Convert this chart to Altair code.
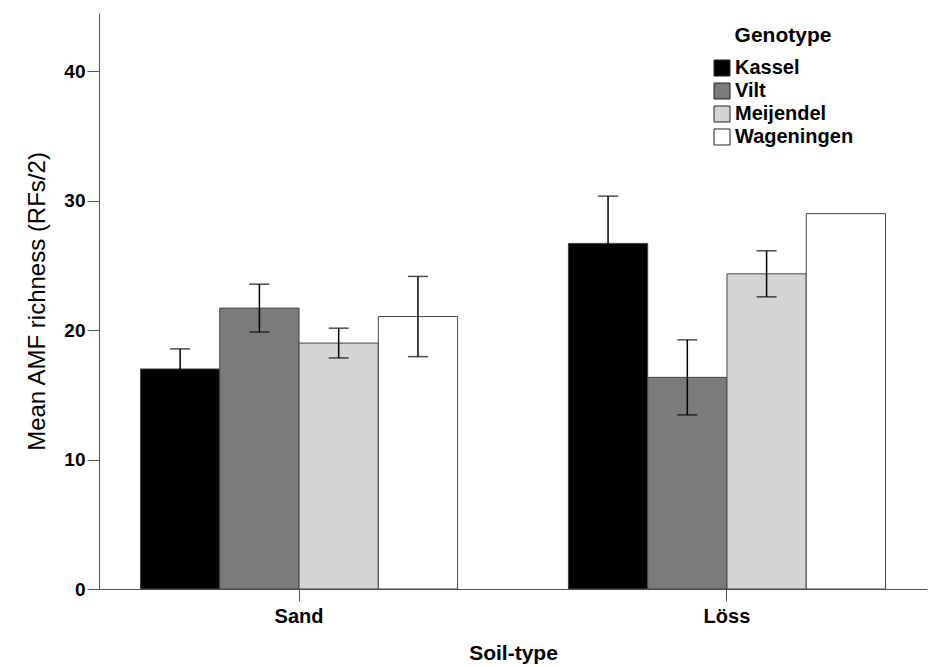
import altair as alt
import pandas as pd

# Mean AMF richness per soil type and plant genotype, with error bar half-widths
soils = ["Sand", "Löss"]
genotypes = ["Kassel", "Vilt", "Meijendel", "Wageningen"]
fills = ["#000000", "#7b7b7b", "#d4d4d4", "#ffffff"]

sand_means = [17.0, 21.7, 19.0, 21.05]
loss_means = [26.7, 16.35, 24.35, 29.0]
sand_err = [1.55, 1.85, 1.15, 3.1]
loss_err = [3.65, 2.9, 1.78, None]

rows = []
for soil, means, errs in [("Sand", sand_means, sand_err), ("Löss", loss_means, loss_err)]:
    for g, m, e in zip(genotypes, means, errs):
        rows.append({"soil": soil, "genotype": g, "mean": m,
                     "lo": None if e is None else m - e,
                     "hi": None if e is None else m + e})
df = pd.DataFrame(rows)
err_df = df.dropna(subset=["lo"])

FONT = "Liberation Sans"

x_enc = alt.X("soil:N", sort=soils, title="Soil-type",
              scale=alt.Scale(domain=soils, paddingInner=0.259, paddingOuter=0.097),
              axis=alt.Axis(labelAngle=0, labelFontSize=20, labelFontWeight="bold",
                            labelFont=FONT, labelColor="black", labelPadding=5,
                            tickSize=12, tickColor="#555", domainColor="#555",
                            titleFontSize=21, titleFontWeight="bold", titleFont=FONT,
                            titleColor="black", titlePadding=16))
off_enc = alt.XOffset("genotype:N", sort=genotypes,
                      scale=alt.Scale(domain=genotypes, paddingInner=0, paddingOuter=0))
y_scale = alt.Scale(domain=[0, 44.5], nice=False, zero=True)

bars = alt.Chart(df).mark_bar(stroke="#444", strokeWidth=1).encode(
    x=x_enc,
    xOffset=off_enc,
    y=alt.Y("mean:Q", scale=y_scale, title="Mean AMF richness (RFs/2)",
            axis=alt.Axis(values=[0, 10, 20, 30, 40], grid=False, labelFontSize=19,
                          labelFontWeight="bold", labelFont=FONT, labelColor="black",
                          labelPadding=2, tickSize=12, tickColor="#555",
                          domainColor="#555", titleFontSize=24, titleFontWeight="normal",
                          titleFont=FONT, titleColor="black", titlePadding=14)),
    fill=alt.Fill("genotype:N", sort=genotypes,
                  scale=alt.Scale(domain=genotypes, range=fills),
                  legend=alt.Legend(title="Genotype", orient="none",
                                    legendX=613, legendY=12)),
)

whisker = alt.Chart(err_df).mark_rule(color="black", strokeWidth=1.5).encode(
    x=alt.X("soil:N", sort=soils), xOffset=off_enc,
    y=alt.Y("lo:Q", scale=y_scale), y2="hi:Q",
)
cap_lo = alt.Chart(err_df).mark_tick(color="black", size=20, thickness=1.5).encode(
    x=alt.X("soil:N", sort=soils), xOffset=off_enc, y=alt.Y("lo:Q", scale=y_scale),
)
cap_hi = alt.Chart(err_df).mark_tick(color="black", size=20, thickness=1.5).encode(
    x=alt.X("soil:N", sort=soils), xOffset=off_enc, y=alt.Y("hi:Q", scale=y_scale),
)

chart = alt.layer(bars, whisker, cap_lo, cap_hi).properties(
    width=828, height=576,
    autosize=alt.AutoSizeParams(type="none"),
    padding={"left": 99, "top": 13, "right": 4, "bottom": 78},
    background="white",
).configure_view(stroke=None).configure_legend(
    titleFont=FONT, titleFontSize=21, titleFontWeight="bold", titleColor="black",
    titleAnchor="middle", titlePadding=12,
    labelFont=FONT, labelFontSize=20, labelFontWeight="bold", labelColor="black",
    labelOffset=3, symbolType="square", symbolSize=256, symbolStrokeColor="#222",
    symbolStrokeWidth=1, rowPadding=3,
)

chart.save("out.html", embed_options={"renderer": "svg", "actions": False})
